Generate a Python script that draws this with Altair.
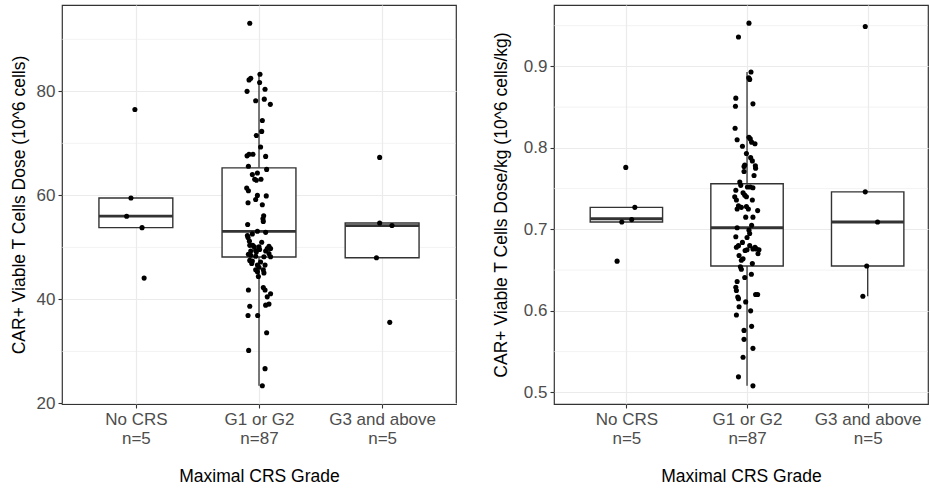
import altair as alt
import pandas as pd

# ---------------- data ----------------
categories = ["No CRS", "G1 or G2", "G3 and above"]
counts = [5, 87, 5]

# Left panel: CAR+ viable T cells dose (10^6 cells)
dose_none = [76.5, 59.5, 56.0, 53.8, 44.1]
dose_none_jit = [-0.008, -0.040, -0.075, 0.050, 0.067]
dose_g12 = [93.1, 83.3, 82.5, 82.2, 81.7, 80.0, 80.4, 78.2, 78.5, 77.5,
            74.4, 72.3, 71.5, 69.3, 67.9, 67.9, 67.6, 67.5, 65.6, 65.0,
            64.3, 64.0, 63.1, 62.9, 63.1, 61.4, 60.9, 60.0, 59.9, 59.2,
            58.6, 58.2, 56.1, 55.5, 55.0, 54.4, 52.9, 53.1, 52.3, 51.9,
            51.2, 50.4, 50.1, 50.1, 50.2, 49.8, 49.6, 49.4, 49.3, 48.7,
            48.5, 48.3, 48.2, 48.2, 48.8, 47.5, 47.4, 47.2, 46.6, 46.6,
            45.7, 45.7, 45.1, 45.3, 44.4, 41.8, 42.3, 41.8, 41.1, 40.5,
            38.9, 39.1, 38.7, 36.9, 36.9, 33.6, 30.2, 26.7, 23.4, 52.6,
            51.0, 49.3, 46.9, 49.1, 49.8, 50.4, 46.2]
dose_g12_jit = [-0.075, 0.008, -0.067, -0.081, 0.005, -0.097, 0.049, -0.027, 0.043, 0.092,
                0.027, 0.022, -0.022, 0.013, -0.081, -0.049, -0.097, 0.054, -0.086, 0.062,
                -0.013, -0.054, -0.035, -0.022, 0.016, -0.100, -0.086, -0.013, 0.059, -0.027,
                -0.089, 0.027, 0.038, 0.032, 0.035, -0.092, 0.054, -0.013, -0.094, -0.089,
                -0.078, -0.051, -0.038, 0.000, 0.081, 0.094, 0.005, -0.027, -0.067, -0.086,
                -0.067, -0.027, 0.040, 0.094, 0.081, -0.075, -0.054, 0.013, 0.049, -0.013,
                -0.027, 0.035, 0.040, -0.013, -0.005, -0.086, 0.035, 0.049, 0.094, 0.067,
                0.054, 0.081, -0.075, -0.089, -0.011, 0.062, -0.084, 0.049, 0.027, -0.054,
                0.022, 0.054, -0.059, -0.022, 0.067, -0.075, 0.000]
dose_g3 = [67.3, 54.7, 54.2, 48.0, 35.6]
dose_g3_jit = [-0.020, -0.020, 0.080, -0.046, 0.062]

# box statistics (lower whisker, Q1, median, Q3, upper whisker)
dose_lower = [53.8, 23.4, 48.0]
dose_q1 = [53.8, 48.15, 48.0]
dose_med = [56.0, 53.1, 54.2]
dose_q3 = [59.5, 65.3, 54.7]
dose_upper = [59.5, 83.3, 54.7]

# Right panel: CAR+ viable T cells dose/kg (10^6 cells/kg)
dkg_none = [0.776, 0.727, 0.712, 0.709, 0.661]
dkg_none_jit = [-0.005, 0.070, 0.044, -0.038, -0.077]
dkg_g12 = [0.953, 0.936, 0.893, 0.884, 0.886, 0.861, 0.851, 0.854, 0.824, 0.810,
           0.813, 0.811, 0.807, 0.805, 0.802, 0.788, 0.784, 0.779, 0.777, 0.778,
           0.775, 0.771, 0.766, 0.758, 0.754, 0.752, 0.751, 0.748, 0.745, 0.742,
           0.740, 0.740, 0.736, 0.729, 0.725, 0.736, 0.728, 0.725, 0.723, 0.715,
           0.715, 0.702, 0.705, 0.699, 0.691, 0.690, 0.680, 0.678, 0.680, 0.678,
           0.676, 0.676, 0.675, 0.670, 0.675, 0.674, 0.664, 0.662, 0.658, 0.654,
           0.651, 0.645, 0.641, 0.636, 0.629, 0.625, 0.617, 0.615, 0.620, 0.620,
           0.611, 0.605, 0.600, 0.595, 0.581, 0.576, 0.565, 0.554, 0.543, 0.519,
           0.508, 0.752, 0.727, 0.695, 0.684, 0.668, 0.793]
dkg_g12_jit = [0.016, -0.071, 0.033, 0.022, 0.014, -0.093, -0.096, 0.049, -0.099, -0.082,
               0.016, 0.027, 0.038, 0.066, -0.038, 0.030, 0.044, -0.019, -0.025, 0.069,
               0.071, -0.025, 0.058, -0.060, -0.052, 0.003, 0.049, -0.093, -0.033, -0.019,
               -0.005, -0.102, -0.088, -0.071, -0.082, 0.044, -0.005, 0.011, 0.088, -0.011,
               0.049, -0.082, 0.038, 0.016, -0.093, 0.000, -0.071, -0.088, 0.022, 0.066,
               0.077, 0.049, 0.099, 0.091, 0.000, -0.016, -0.033, -0.047, 0.044, -0.055,
               -0.047, 0.036, -0.019, -0.082, -0.093, -0.088, -0.077, -0.071, 0.071, 0.088,
               -0.011, -0.066, 0.030, -0.088, 0.038, -0.025, -0.025, 0.049, -0.033, -0.071,
               0.049, 0.027, -0.047, 0.022, -0.038, -0.066, -0.005]
dkg_g3 = [0.949, 0.746, 0.709, 0.655, 0.618]
dkg_g3_jit = [-0.020, -0.020, 0.082, -0.008, -0.040]

dkg_lower = [0.709, 0.508, 0.618]
dkg_q1 = [0.709, 0.655, 0.655]
dkg_med = [0.713, 0.702, 0.709]
dkg_q3 = [0.727, 0.756, 0.746]
dkg_upper = [0.727, 0.893, 0.746]

# axis breaks
dose_major = [20, 40, 60, 80]
dose_minor = [30, 50, 70, 90]
dkg_major = [0.5, 0.6, 0.7, 0.8, 0.9]
dkg_minor = [0.55, 0.65, 0.75, 0.85, 0.95]

# ---------------- styling ----------------
FONT = "Liberation Sans"
DARK = "#333333"
GRID = "#EBEBEB"

label_expr = " : ".join(
    f"datum.value == {i + 1} ? ['{c}', 'n={n}']" for i, (c, n) in enumerate(zip(categories, counts))
) + " : ''"


def points_frame(groups):
    rows = []
    for i, (vals, jit) in enumerate(groups):
        for v, j in zip(vals, jit):
            rows.append({"pos": i + 1 + j, "value": v})
    return pd.DataFrame(rows)


def box_frame(lower, q1, med, q3, upper):
    return pd.DataFrame({
        "pos": [i + 1 for i in range(len(categories))],
        "left": [i + 1 - 0.3 for i in range(len(categories))],
        "right": [i + 1 + 0.3 for i in range(len(categories))],
        "lower": lower, "q1": q1, "med": med, "q3": q3, "upper": upper,
    })


def panel(pts, box, major, minor, ydomain, xdomain, ytitle, width, extent, tpad, yfmt):
    xscale = alt.Scale(domain=xdomain, nice=False, zero=False)
    yscale = alt.Scale(domain=ydomain, nice=False, zero=False)
    xaxis = alt.Axis(values=[1, 2, 3], labelExpr=label_expr, title="Maximal CRS Grade",
                     grid=True, gridColor=GRID, gridWidth=1.2, domain=False,
                     tickColor=DARK, tickSize=4, tickWidth=1.1,
                     labelPadding=3, labelLineHeight=19, labelBaseline="top",
                     titlePadding=21)
    yaxis = alt.Axis(values=major, title=ytitle, grid=True, gridColor=GRID, gridWidth=1.2,
                     domain=False, tickColor=DARK, tickSize=4, tickWidth=1.1, format=yfmt,
                     labelPadding=3, minExtent=extent, maxExtent=extent, titlePadding=tpad)

    minor_df = pd.DataFrame({"v": minor})
    minor_layer = alt.Chart(minor_df).mark_rule(color=GRID, strokeWidth=0.6).encode(
        y=alt.Y("v:Q", scale=yscale, axis=yaxis)
    )
    whisk_lo = alt.Chart(box).mark_rule(color=DARK, strokeWidth=1.3).encode(
        x=alt.X("pos:Q", scale=xscale, axis=xaxis),
        y=alt.Y("lower:Q", scale=yscale),
        y2="q1:Q",
    )
    whisk_hi = alt.Chart(box).mark_rule(color=DARK, strokeWidth=1.3).encode(
        x=alt.X("pos:Q", scale=xscale),
        y=alt.Y("q3:Q", scale=yscale),
        y2="upper:Q",
    )
    rect = alt.Chart(box).mark_rect(fill="white", stroke=DARK, strokeWidth=1.4).encode(
        x=alt.X("left:Q", scale=xscale),
        x2="right:Q",
        y=alt.Y("q1:Q", scale=yscale),
        y2="q3:Q",
    )
    median = alt.Chart(box).mark_rule(color=DARK, strokeWidth=2.8).encode(
        x=alt.X("left:Q", scale=xscale),
        x2="right:Q",
        y=alt.Y("med:Q", scale=yscale),
    )
    dots = alt.Chart(pts).mark_circle(color="black", opacity=1, size=26).encode(
        x=alt.X("pos:Q", scale=xscale),
        y=alt.Y("value:Q", scale=yscale),
    )
    return alt.layer(minor_layer, whisk_lo, whisk_hi, rect, median, dots).properties(
        width=width, height=399
    )


left = panel(
    points_frame([(dose_none, dose_none_jit), (dose_g12, dose_g12_jit), (dose_g3, dose_g3_jit)]),
    box_frame(dose_lower, dose_q1, dose_med, dose_q3, dose_upper),
    dose_major, dose_minor, [19.9, 96.6], [0.4, 3.6],
    "CAR+ Viable T Cells Dose (10^6 cells)", 394, 25, 9, "d",
)
right = panel(
    points_frame([(dkg_none, dkg_none_jit), (dkg_g12, dkg_g12_jit), (dkg_g3, dkg_g3_jit)]),
    box_frame(dkg_lower, dkg_q1, dkg_med, dkg_q3, dkg_upper),
    dkg_major, dkg_minor, [0.4857, 0.9753], [0.4, 3.5],
    "CAR+ Viable T Cells Dose/kg (10^6 cells/kg)", 374, 31, 13, ".1f",
)

chart = alt.hconcat(left, right, spacing=34).properties(
    padding={"left": 9, "top": 4, "right": 0, "bottom": 0},
    background="white",
).configure_view(
    stroke=DARK, strokeWidth=1.2
).configure_axis(
    labelFont=FONT, titleFont=FONT, labelFontSize=17, titleFontSize=17.5,
    labelColor="#4D4D4D", titleColor="black", titleFontWeight="normal",
)

chart.save("out.html", embed_options={"renderer": "svg", "actions": False})
